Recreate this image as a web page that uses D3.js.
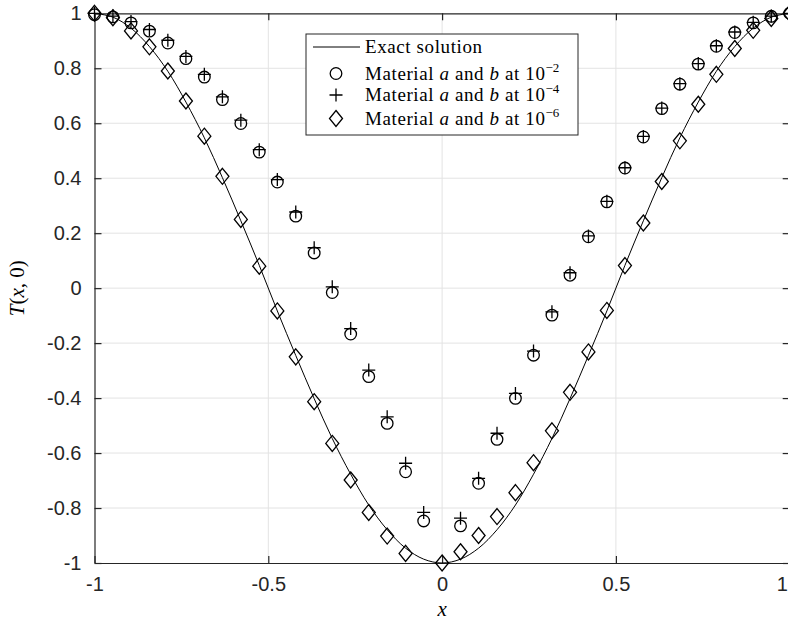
<!DOCTYPE html>
<html>
<head>
<meta charset="utf-8">
<script src="https://cdn.jsdelivr.net/npm/d3@7"></script>
<style>
  body { margin: 0; background: #fff; }
  svg { display: block; }
</style>
</head>
<body>
<div id="chart"></div>
<script>
// sample positions along x (mesh nodes)
let xs = [-1, -0.947, -0.895, -0.842, -0.789, -0.737, -0.684, -0.632, -0.579, -0.526,
  -0.474, -0.421, -0.368, -0.316, -0.263, -0.211, -0.158, -0.105, -0.053, 0,
  0.053, 0.105, 0.158, 0.211, 0.263, 0.316, 0.368, 0.421, 0.474, 0.526,
  0.579, 0.632, 0.684, 0.737, 0.789, 0.842, 0.895, 0.947, 1];

// exact solution read at the same x positions
let exact = [1, 0.986, 0.946, 0.879, 0.789, 0.677, 0.547, 0.402, 0.245, 0.083,
  -0.083, -0.245, -0.402, -0.547, -0.677, -0.789, -0.879, -0.946, -0.986, -1,
  -0.986, -0.946, -0.879, -0.789, -0.677, -0.547, -0.402, -0.245, -0.083, 0.083,
  0.245, 0.402, 0.547, 0.677, 0.789, 0.879, 0.946, 0.986, 1];

// material a and b at 1e-2 (circles)
let tol2 = [0.995, 0.987, 0.965, 0.935, 0.892, 0.835, 0.768, 0.686, 0.599, 0.495,
  0.386, 0.262, 0.128, -0.016, -0.167, -0.322, -0.492, -0.668, -0.847, null,
  -0.865, -0.71, -0.55, -0.401, -0.244, -0.098, 0.047, 0.187, 0.314, 0.437,
  0.55, 0.653, 0.742, 0.815, 0.88, 0.93, 0.965, 0.989, 1.0];

// material a and b at 1e-4 (plus)
let tol4 = [1.0, 0.99, 0.97, 0.941, 0.902, 0.843, 0.778, 0.696, 0.611, 0.504,
  0.395, 0.277, 0.147, 0.005, -0.147, -0.298, -0.468, -0.637, -0.816, null,
  -0.837, -0.692, -0.528, -0.383, -0.229, -0.086, 0.056, 0.19, 0.316, 0.438,
  0.552, 0.655, 0.744, 0.817, 0.882, 0.932, 0.967, 0.99, 1.0];

// material a and b at 1e-6 (diamonds)
let tol6 = [1.0, 0.984, 0.936, 0.878, 0.79, 0.681, 0.553, 0.407, 0.25, 0.08,
  -0.083, -0.25, -0.413, -0.565, -0.698, -0.816, -0.902, -0.965, null, -1.0,
  -0.959, -0.9, -0.831, -0.744, -0.635, -0.519, -0.379, -0.232, -0.081, 0.082,
  0.237, 0.388, 0.536, 0.669, 0.778, 0.872, 0.938, 0.981, 1.0];

let xTicks = [-1, -0.5, 0, 0.5, 1];
let yTicks = [-1, -0.8, -0.6, -0.4, -0.2, 0, 0.2, 0.4, 0.6, 0.8, 1];
let legendExp = ['\u22122', '\u22124', '\u22126'];

let width = 788, height = 622;
let margin = {top: 13.3, right: -1.7, bottom: 59, left: 94.5},
  w = width - margin.left - margin.right,
  h = height - margin.top - margin.bottom;

let axisColor = '#262626', gridColor = '#e3e3e3';

let svg = d3.select('#chart').append('svg')
  .attr('width', width)
  .attr('height', height);

let x = d3.scaleLinear().domain([-1, 1]).range([0, w]),
  y = d3.scaleLinear().domain([-1, 1]).range([h, 0]);

let g = svg.append('g')
  .attr('transform', 'translate(' + margin.left + ',' + margin.top + ')');

// grid
g.append('g').selectAll('line')
  .data(xTicks.slice(1, -1))
  .enter().append('line')
    .attr('x1', (d) => x(d)).attr('x2', (d) => x(d))
    .attr('y1', 0).attr('y2', h)
    .attr('stroke', gridColor);

g.append('g').selectAll('line')
  .data(yTicks.slice(1, -1))
  .enter().append('line')
    .attr('y1', (d) => y(d)).attr('y2', (d) => y(d))
    .attr('x1', 0).attr('x2', w)
    .attr('stroke', gridColor);

// axes (ticks inward, box on)
let fmt = (d) => d3.format('~g')(d).replace('\u2212', '-');

let xAxis = d3.axisBottom(x).tickValues(xTicks).tickSizeInner(-7).tickSizeOuter(0).tickPadding(14).tickFormat(fmt),
  yAxis = d3.axisLeft(y).tickValues(yTicks).tickSizeInner(-7).tickSizeOuter(0).tickPadding(13).tickFormat(fmt),
  xTop = d3.axisTop(x).tickValues(xTicks).tickSizeInner(-7).tickSizeOuter(0).tickFormat(''),
  yRight = d3.axisRight(y).tickValues(yTicks).tickSizeInner(-7).tickSizeOuter(0).tickFormat('');

let styleAxis = (sel) => {
  sel.selectAll('path').attr('stroke', axisColor).attr('stroke-width', 1.2);
  sel.selectAll('line').attr('stroke', axisColor).attr('stroke-width', 1.2);
  sel.selectAll('text')
    .attr('fill', axisColor)
    .style('font-family', '"Liberation Sans", Arial, sans-serif')
    .style('font-size', '20px');
};

let gx = g.append('g').attr('transform', 'translate(0,' + h + ')').call(xAxis).call(styleAxis);
g.append('g').call(yAxis).call(styleAxis);
g.append('g').call(xTop).call(styleAxis);
g.append('g').attr('transform', 'translate(' + w + ',0)').call(yRight).call(styleAxis);

// last x label sits at the window edge: nudge it inside
gx.selectAll('.tick text').filter((d) => d === 1).attr('dx', -8);

// exact solution
let line = d3.line()
  .x((d, i) => x(xs[i]))
  .y((d) => y(d))
  .curve(d3.curveCatmullRom);

g.append('path')
  .datum(exact)
  .attr('d', line)
  .attr('fill', 'none')
  .attr('stroke', '#000')
  .attr('stroke-width', 1);

let pts = (arr) => arr.map((v, i) => ({x: xs[i], v: v})).filter((d) => d.v !== null);

let circleSym = d3.symbol().type(d3.symbolCircle).size(Math.PI * 5.8 * 5.8);
let diamondPath = 'M0,-8L6.5,0L0,8L-6.5,0Z';
let plusPath = 'M-6.5,0H6.5M0,-6.5V6.5';

let marks = g.append('g')
  .attr('fill', 'none')
  .attr('stroke', '#000')
  .attr('stroke-width', 1.3);

marks.selectAll('.circ')
  .data(pts(tol2))
  .enter().append('path')
    .attr('class', 'circ')
    .attr('d', circleSym)
    .attr('transform', (d) => 'translate(' + x(d.x) + ',' + y(d.v) + ')');

marks.selectAll('.plus')
  .data(pts(tol4))
  .enter().append('path')
    .attr('class', 'plus')
    .attr('d', plusPath)
    .attr('transform', (d) => 'translate(' + x(d.x) + ',' + y(d.v) + ')');

marks.selectAll('.dia')
  .data(pts(tol6))
  .enter().append('path')
    .attr('class', 'dia')
    .attr('d', diamondPath)
    .attr('transform', (d) => 'translate(' + x(d.x) + ',' + y(d.v) + ')');

// axis labels
let serif = '"Liberation Serif", "DejaVu Serif", serif';

svg.append('text')
  .attr('x', margin.left + x(0))
  .attr('y', 616)
  .attr('text-anchor', 'middle')
  .style('font-family', serif)
  .style('font-style', 'italic')
  .style('font-size', '21px')
  .text('x');

let yl = svg.append('text')
  .attr('transform', 'translate(24,' + (margin.top + y(0)) + ') rotate(-90)')
  .attr('text-anchor', 'middle')
  .style('font-family', serif)
  .style('font-size', '21px');
yl.append('tspan').style('font-style', 'italic').text('T');
yl.append('tspan').text('(');
yl.append('tspan').style('font-style', 'italic').text('x');
yl.append('tspan').text(', 0)');

// legend
let lg = svg.append('g').attr('transform', 'translate(306,34)');
lg.append('rect')
  .attr('width', 272).attr('height', 101)
  .attr('fill', '#fff')
  .attr('stroke', axisColor)
  .attr('stroke-width', 1);

let rowY = [13, 39.5, 61, 84.5];

lg.append('line')
  .attr('x1', 7).attr('x2', 54)
  .attr('y1', rowY[0]).attr('y2', rowY[0])
  .attr('stroke', '#000');

let legMarks = [circleSym(), plusPath, diamondPath];
legMarks.forEach((p, i) => {
  lg.append('path')
    .attr('d', p)
    .attr('transform', 'translate(30,' + rowY[i + 1] + ')')
    .attr('fill', 'none')
    .attr('stroke', '#000')
    .attr('stroke-width', 1.3);
});

let legText = (row) => lg.append('text')
  .attr('x', 59)
  .attr('y', rowY[row] + 6)
  .style('font-family', serif)
  .style('font-size', '19px')
  .style('letter-spacing', '0.6px')
  .attr('fill', '#000');

legText(0).text('Exact solution');

legendExp.forEach((e, i) => {
  let t = legText(i + 1);
  t.append('tspan').text('Material ');
  t.append('tspan').style('font-style', 'italic').text('a');
  t.append('tspan').text(' and ');
  t.append('tspan').style('font-style', 'italic').text('b');
  t.append('tspan').text(' at 10');
  t.append('tspan').attr('dy', -8).style('font-size', '13px').style('letter-spacing', '0').text(e);
});
</script>
</body>
</html>
